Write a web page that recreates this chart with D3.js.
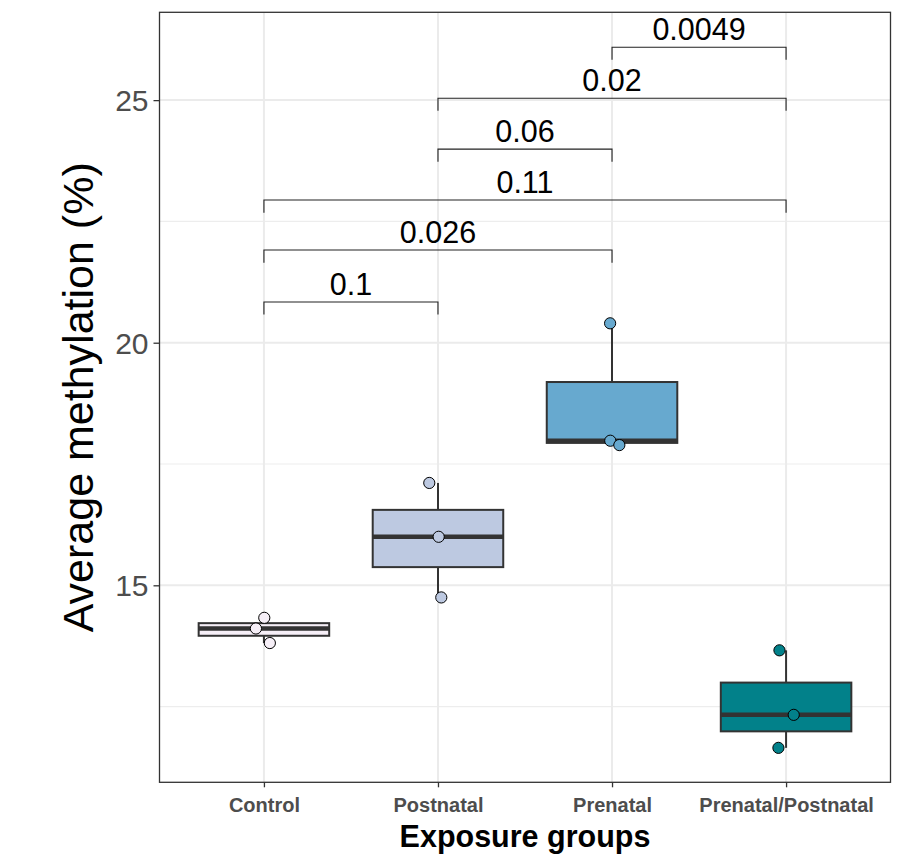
<!DOCTYPE html>
<html>
<head>
<meta charset="utf-8">
<script src="https://cdn.jsdelivr.net/npm/d3@7"></script>
<style>
  html, body { margin: 0; padding: 0; background: #fff; }
  svg { display: block; font-family: "Liberation Sans", Arial, sans-serif; }
</style>
</head>
<body>
<svg id="chart" width="924" height="854"></svg>
<script>
// Exposure groups and their fill colours (PuBuGn)
const categories = ["Control", "Postnatal", "Prenatal", "Prenatal/Postnatal"];
const fills = ["#f6eff7", "#bdc9e1", "#67a9cf", "#02818a"];

// Average methylation (%) per sample, one array per group
const controlValues   = [14.33, 14.11, 13.81];
const postnatalValues = [17.11, 16.00, 14.75];
const prenatalValues  = [20.40, 17.98, 17.89];
const bothValues      = [13.66, 12.33, 11.65];

// Horizontal jitter of each sample point, as a fraction of the category step
const controlJitter   = [0.002, -0.046, 0.034];
const postnatalJitter = [-0.050, 0.004, 0.019];
const prenatalJitter  = [-0.011, -0.010, 0.042];
const bothJitter      = [-0.038, 0.044, -0.044];

// Pairwise comparisons, their p-values and bracket heights
const comparisons = [
  ["Control", "Postnatal"],
  ["Control", "Prenatal"],
  ["Control", "Prenatal/Postnatal"],
  ["Postnatal", "Prenatal"],
  ["Postnatal", "Prenatal/Postnatal"],
  ["Prenatal", "Prenatal/Postnatal"]
];
const pLabels = ["0.1", "0.026", "0.11", "0.06", "0.02", "0.0049"];
const bracketY = [20.84, 21.91, 22.94, 23.99, 25.04, 26.09];
const bracketTip = 0.26;

// Axis ticks
const yMajorTicks = [15, 20, 25];
const yMinorTicks = [12.5, 17.5, 22.5];

const groups = categories.map((c, i) => ({
  name: c,
  fill: fills[i],
  values: [controlValues, postnatalValues, prenatalValues, bothValues][i],
  jitter: [controlJitter, postnatalJitter, prenatalJitter, bothJitter][i]
}));

const svg = d3.select("#chart");
const panel = { left: 159.5, right: 890.5, top: 12.3, bottom: 782.3 };

const x = d3.scalePoint()
  .domain(categories)
  .range([panel.left, panel.right])
  .padding(0.6);
const step = x.step();
const boxWidth = step * 0.75;

const y = d3.scaleLinear()
  .domain([10.94, 26.81])
  .range([panel.bottom, panel.top]);

// Panel background and grid
const grid = svg.append("g");
grid.selectAll("line.minor")
  .data(yMinorTicks)
  .join("line")
  .attr("x1", panel.left).attr("x2", panel.right)
  .attr("y1", d => y(d)).attr("y2", d => y(d))
  .attr("stroke", "#ededed").attr("stroke-width", 1.2);
grid.selectAll("line.majorY")
  .data(yMajorTicks)
  .join("line")
  .attr("x1", panel.left).attr("x2", panel.right)
  .attr("y1", d => y(d)).attr("y2", d => y(d))
  .attr("stroke", "#ebebeb").attr("stroke-width", 2);
grid.selectAll("line.majorX")
  .data(categories)
  .join("line")
  .attr("x1", d => x(d)).attr("x2", d => x(d))
  .attr("y1", panel.top).attr("y2", panel.bottom)
  .attr("stroke", "#ebebeb").attr("stroke-width", 2);

// Box plots (quartiles computed R type-7, as d3.quantile does)
const boxes = svg.append("g");
groups.forEach(g => {
  const sorted = g.values.slice().sort(d3.ascending);
  const q1 = d3.quantile(sorted, 0.25);
  const med = d3.quantile(sorted, 0.5);
  const q3 = d3.quantile(sorted, 0.75);
  const iqr = q3 - q1;
  const lo = d3.min(sorted.filter(v => v >= q1 - 1.5 * iqr));
  const hi = d3.max(sorted.filter(v => v <= q3 + 1.5 * iqr));
  const cx = x(g.name);
  const bg = boxes.append("g");
  bg.append("line")
    .attr("x1", cx).attr("x2", cx).attr("y1", y(q3)).attr("y2", y(hi))
    .attr("stroke", "#333333").attr("stroke-width", 2);
  bg.append("line")
    .attr("x1", cx).attr("x2", cx).attr("y1", y(q1)).attr("y2", y(lo))
    .attr("stroke", "#333333").attr("stroke-width", 2);
  bg.append("rect")
    .attr("x", cx - boxWidth / 2).attr("width", boxWidth)
    .attr("y", y(q3)).attr("height", y(q1) - y(q3))
    .attr("fill", g.fill).attr("stroke", "#333333").attr("stroke-width", 2);
  bg.append("line")
    .attr("x1", cx - boxWidth / 2).attr("x2", cx + boxWidth / 2)
    .attr("y1", y(med)).attr("y2", y(med))
    .attr("stroke", "#333333").attr("stroke-width", 4.5);
});

// Sample points
const pts = svg.append("g");
groups.forEach(g => {
  pts.selectAll(null)
    .data(g.values.map((v, i) => ({ v, j: g.jitter[i] })))
    .join("circle")
    .attr("cx", d => x(g.name) + d.j * step)
    .attr("cy", d => y(d.v))
    .attr("r", 5.6)
    .attr("fill", g.fill)
    .attr("stroke", "#000")
    .attr("stroke-width", 1);
});

// Significance brackets
const br = svg.append("g");
comparisons.forEach((c, i) => {
  const x1 = x(c[0]), x2 = x(c[1]);
  const yb = y(bracketY[i]);
  const yt = y(bracketY[i] - bracketTip);
  br.append("path")
    .attr("d", `M${x1},${yt}V${yb}H${x2}V${yt}`)
    .attr("fill", "none").attr("stroke", "#222").attr("stroke-width", 1.1);
  br.append("text")
    .attr("x", (x1 + x2) / 2).attr("y", yb - 7.4)
    .attr("text-anchor", "middle")
    .attr("font-size", 30.5)
    .attr("fill", "#000")
    .text(pLabels[i]);
});

// Panel border
svg.append("rect")
  .attr("x", panel.left).attr("y", panel.top)
  .attr("width", panel.right - panel.left).attr("height", panel.bottom - panel.top)
  .attr("fill", "none").attr("stroke", "#333333").attr("stroke-width", 1.3);

// Y axis
const yAxis = svg.append("g")
  .attr("transform", `translate(${panel.left},0)`)
  .call(d3.axisLeft(y).tickValues(yMajorTicks).tickSize(6).tickPadding(5));
yAxis.select(".domain").remove();
yAxis.selectAll(".tick line").attr("stroke", "#333333").attr("stroke-width", 1.3);
yAxis.selectAll(".tick text")
  .attr("font-size", 30).attr("fill", "#4d4d4d")
  .attr("font-family", "Liberation Sans, Arial, sans-serif")
  .attr("dy", "0.35em");

// X axis
const xAxis = svg.append("g")
  .attr("transform", `translate(0,${panel.bottom})`)
  .call(d3.axisBottom(x).tickSize(5).tickPadding(8));
xAxis.select(".domain").remove();
xAxis.selectAll(".tick line").attr("stroke", "#333333").attr("stroke-width", 1.3);
xAxis.selectAll(".tick text")
  .attr("font-size", 20).attr("font-weight", "bold").attr("fill", "#4d4d4d")
  .attr("font-family", "Liberation Sans, Arial, sans-serif")
  .attr("dy", 0).attr("y", 30.2);

// Axis titles
svg.append("text")
  .attr("x", (panel.left + panel.right) / 2).attr("y", 847)
  .attr("text-anchor", "middle")
  .attr("font-size", 30.5).attr("font-weight", "bold").attr("fill", "#000")
  .text("Exposure groups");
svg.append("text")
  .attr("transform", `translate(93,${(panel.top + panel.bottom) / 2}) rotate(-90)`)
  .attr("text-anchor", "middle")
  .attr("font-size", 43).attr("fill", "#000")
  .text("Average methylation (%)");
</script>
</body>
</html>
